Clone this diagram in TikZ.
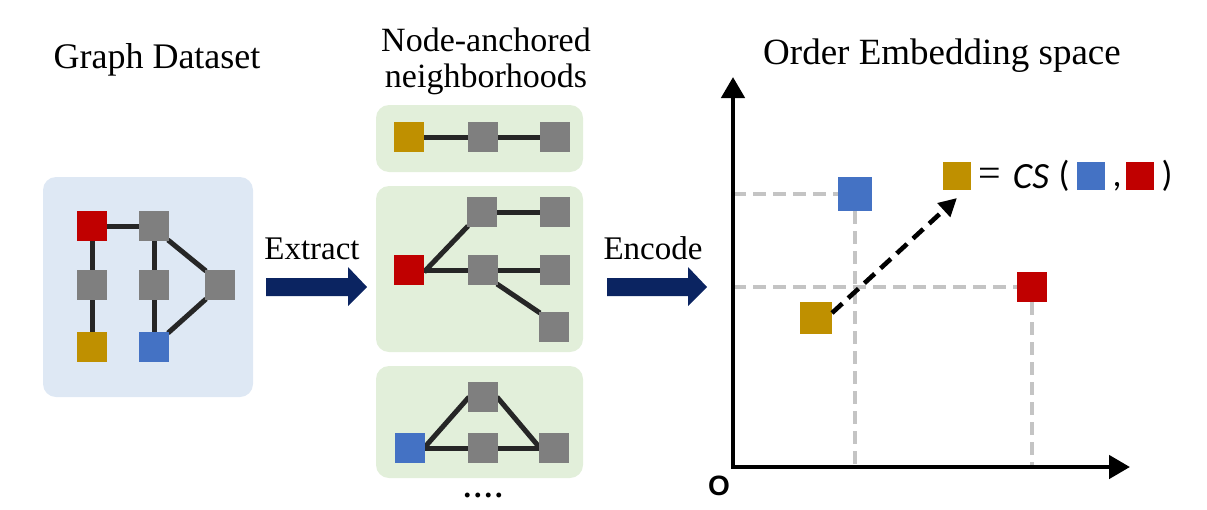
\documentclass[tikz,border=0pt]{standalone}
\usepackage{fontspec}
\setmainfont{Liberation Serif}
\newfontfamily\sansbf{Liberation Sans}
\newfontfamily\csfont{Carlito}
\usetikzlibrary{arrows.meta,calc}
\pgfdeclarelayer{panels}
\pgfdeclarelayer{edges}
\pgfsetlayers{panels,edges,main}
\definecolor{cred}{HTML}{C00000}
\definecolor{cgold}{HTML}{BF9000}
\definecolor{cblue}{HTML}{4472C4}
\definecolor{cgray}{HTML}{7F7F7F}
\definecolor{cedge}{HTML}{262626}
\definecolor{lblue}{HTML}{DEE8F4}
\definecolor{lgreen}{HTML}{E2EFDA}
\definecolor{navy}{HTML}{0B2461}
\definecolor{dgray}{HTML}{C4C4C4}
\tikzset{
  sq/.style={minimum size=30pt, inner sep=0pt, outer sep=0pt, draw=none},
  gsq/.style={sq, fill=cgray},
  gedge/.style={line width=5pt, draw=cedge},
  panelB/.style={fill=lblue, rounded corners=13pt},
  panelG/.style={fill=lgreen, rounded corners=13pt},
  blockarrow/.style={fill=navy},
  dashg/.style={draw=dgray, line width=3.6pt, dash pattern=on 13pt off 7pt},
  axisline/.style={line width=4.6pt, draw=black, line join=miter},
  darr/.style={line width=4.6pt, draw=black, dash pattern=on 14pt off 8pt, -{Triangle[length=18pt,width=18pt]}},
  bigtitle/.style={font=\fontsize{36}{40}\selectfont, anchor=base, inner sep=0pt},
  midtitle/.style={font=\fontsize{34}{38}\selectfont, anchor=base, inner sep=0pt},
  steplabel/.style={font=\fontsize{33}{36}\selectfont, anchor=base, inner sep=0pt},
  formula/.style={font=\csfont\fontsize{36}{38}\selectfont, inner sep=0pt, anchor=base}
}
\begin{document}
\begin{tikzpicture}[x=1pt,y=-1pt]
\useasboundingbox (0,0) rectangle (1207,509);

% titles
\node[bigtitle] (t1) at (157,68) {Graph Dataset};
\node[midtitle] (t2a) at (486,51) {Node-anchored};
\node[midtitle] (t2b) at (486,87) {neighborhoods};
\node[bigtitle, font=\fontsize{37}{40}\selectfont] (t3) at (942,64) {Order Embedding space};

% panels
\begin{pgfonlayer}{panels}
\fill[panelB] (43,177) rectangle (253,397);
\fill[panelG] (376,105) rectangle (583,172);
\fill[panelG] (376,186) rectangle (583,352);
\fill[panelG] (376,366) rectangle (583,478);
\end{pgfonlayer}

% left graph
\node[sq,fill=cred] (L1) at (92,226) {};
\node[gsq] (L2) at (154,226) {};
\node[gsq] (L3) at (92,285) {};
\node[gsq] (L4) at (154,285) {};
\node[gsq] (L5) at (220,285) {};
\node[sq,fill=cgold] (L6) at (92,347) {};
\node[sq,fill=cblue] (L7) at (154,347) {};

% middle top
\node[sq,fill=cgold] (M1) at (409,137) {};
\node[gsq] (M2) at (483,137) {};
\node[gsq] (M3) at (555,137) {};

% middle middle
\node[sq,fill=cred] (N1) at (409,270) {};
\node[gsq] (N2) at (482,212) {};
\node[gsq] (N3) at (555,212) {};
\node[gsq] (N4) at (483,270) {};
\node[gsq] (N5) at (555,270) {};
\node[gsq] (N6) at (554,327) {};

% middle bottom
\node[sq,fill=cblue] (B1) at (410,448) {};
\node[gsq] (B2) at (483,397) {};
\node[gsq] (B3) at (483,448) {};
\node[gsq] (B4) at (554,448) {};

\node[font=\bfseries\fontsize{30}{30}\selectfont, anchor=base, inner sep=0pt] (dots) at (483,497) {.\kern3pt.\kern3pt.\kern3pt.};

\begin{pgfonlayer}{edges}
\draw[gedge] (L1) -- (L2);
\draw[gedge] (L1) -- (L3);
\draw[gedge] (L3) -- (L6);
\draw[gedge] (L2) -- (L4);
\draw[gedge] (L4) -- (L7);
\draw[gedge] ([shift={(-1pt,1pt)}]L2.south east) -- ([shift={(1pt,-1pt)}]L5.north west);
\draw[gedge] ([shift={(1pt,1pt)}]L5.south west) -- ([shift={(-1pt,-1pt)}]L7.north east);
\draw[gedge] (M1) -- (M2);
\draw[gedge] (M2) -- (M3);
\draw[gedge] ([yshift=-2pt]N1.east) -- ([shift={(1pt,1pt)}]N2.south west);
\draw[gedge] (N1) -- (N4);
\draw[gedge] (N2) -- (N3);
\draw[gedge] (N4) -- (N5);
\draw[gedge] ([shift={(-1pt,1pt)}]N4.south east) -- ([shift={(1pt,-1pt)}]N6.north west);
\draw[gedge] ([shift={(-1pt,0pt)}]B1.east) -- ([shift={(1pt,0pt)}]B2.west);
\draw[gedge] (B1) -- (B3);
\draw[gedge] (B3) -- (B4);
\draw[gedge] ([shift={(-1pt,0pt)}]B2.east) -- ([shift={(1pt,0pt)}]B4.west);
\end{pgfonlayer}

% step labels and block arrows
\node[steplabel] (ex) at (312,259) {Extract};
\node[steplabel] (en) at (653,259) {Encode};
\fill[blockarrow] (266,278) -- (348,278) -- (348,267) -- (367,287) -- (348,306) -- (348,296) -- (266,296) -- cycle;
\fill[blockarrow] (607,278) -- (688,278) -- (688,267) -- (707,287) -- (688,306) -- (688,296) -- (607,296) -- cycle;

% axes
\coordinate (O) at (733,467);
\coordinate (YT) at (733,77);
\coordinate (XE) at (1130,467);
\node[font=\sansbf\bfseries\fontsize{28}{28}\selectfont, inner sep=0pt] (olab) at (719,486) {O};

% embedding points
\node[sq, minimum size=34pt, fill=cblue] (P) at (855,194) {};
\node[sq, fill=cred] (Q) at (1032,287) {};
\node[sq, minimum size=32pt, fill=cgold] (R) at (816,318) {};

\draw[dashg] (O |- P) -- (P.west);
\draw[dashg] (P.south) -- (P |- O);
\draw[dashg] (O |- Q) -- (Q.west);
\draw[dashg] (Q.south) -- (Q |- O);

\draw[axisline, {Triangle[length=21pt,width=23pt]}-{Triangle[length=21pt,width=23pt]}] (YT) -- (O) -- (XE);

% formula
\node[sq, minimum size=28pt, fill=cgold] (F1) at (957,176) {};
\node[font=\fontsize{40}{40}\selectfont, inner sep=0pt] (feq) at (990,177) {=};
\node[formula, font=\csfont\itshape\fontsize{37}{38}\selectfont] (fcs) at (1031,188) {CS};
\node[formula] (fl) at (1064,186) {(};
\node[sq, minimum size=28pt, fill=cblue] (F2) at (1091,176) {};
\node[formula] (fc) at (1117,186) {,};
\node[sq, minimum size=28pt, fill=cred] (F3) at (1140,176) {};
\node[formula] (fr) at (1167,186) {)};

\draw[darr] ([yshift=5pt]R.east) -- ([yshift=-8pt]F1.south);
\end{tikzpicture}
\end{document}
